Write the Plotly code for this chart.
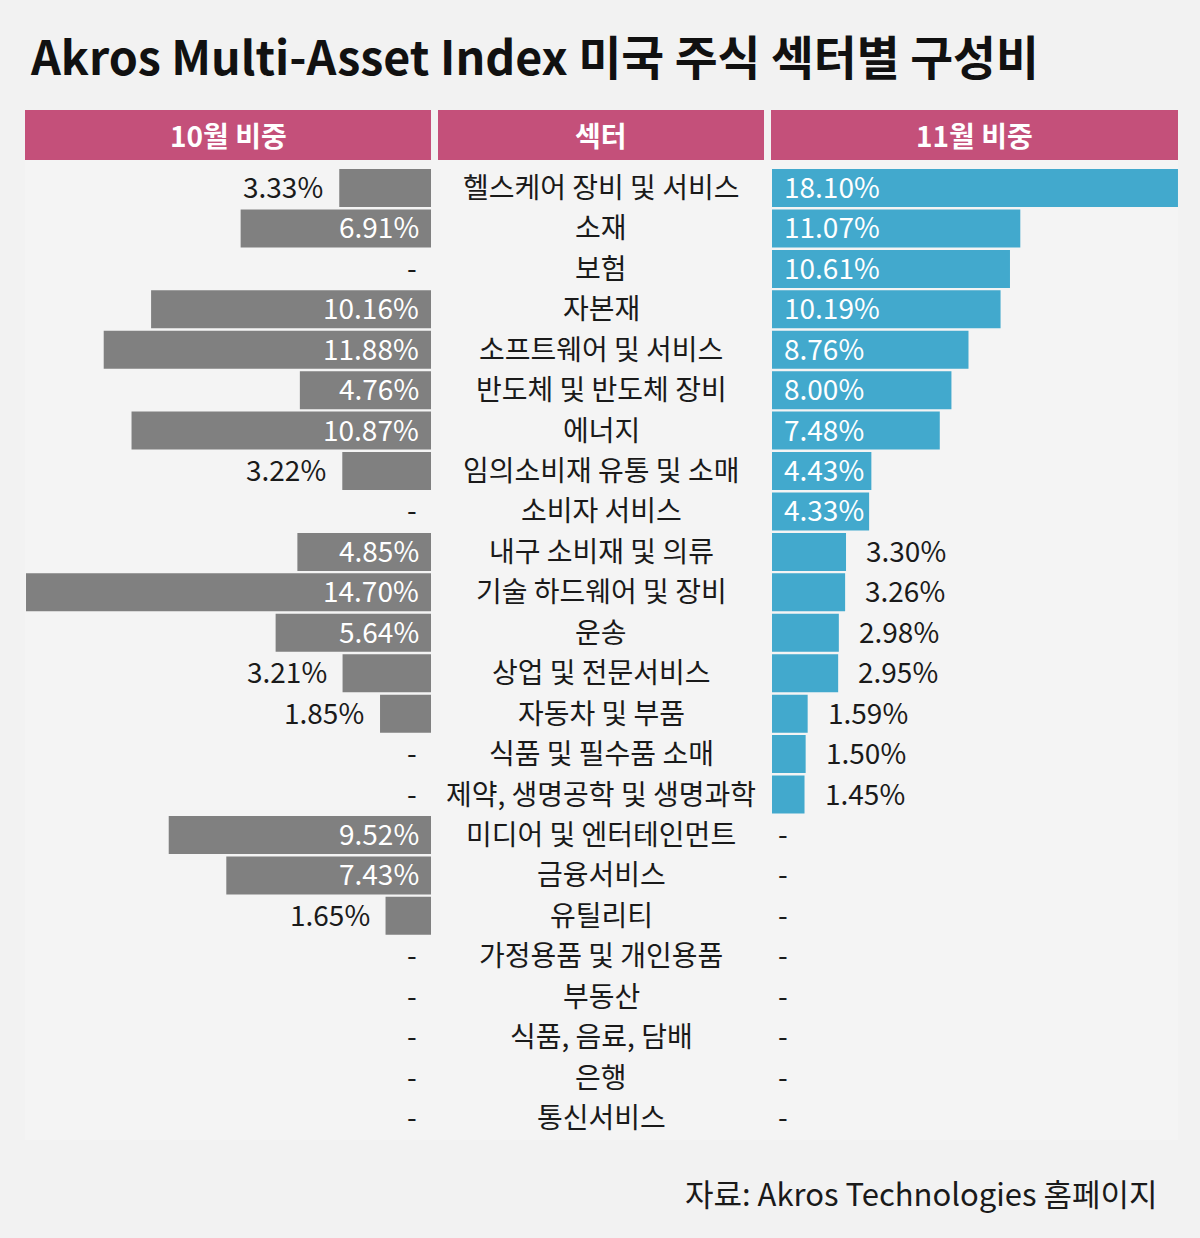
import plotly.graph_objects as go

sectors = ["헬스케어 장비 및 서비스", "소재", "보험", "자본재", "소프트웨어 및 서비스",
           "반도체 및 반도체 장비", "에너지", "임의소비재 유통 및 소매", "소비자 서비스",
           "내구 소비재 및 의류", "기술 하드웨어 및 장비", "운송", "상업 및 전문서비스",
           "자동차 및 부품", "식품 및 필수품 소매", "제약, 생명공학 및 생명과학",
           "미디어 및 엔터테인먼트", "금융서비스", "유틸리티", "가정용품 및 개인용품",
           "부동산", "식품, 음료, 담배", "은행", "통신서비스"]
oct_weights = [3.33, 6.91, None, 10.16, 11.88, 4.76, 10.87, 3.22, None, 4.85, 14.70, 5.64,
               3.21, 1.85, None, None, 9.52, 7.43, 1.65, None, None, None, None, None]
nov_weights = [18.10, 11.07, 10.61, 10.19, 8.76, 8.00, 7.48, 4.43, 4.33, 3.30, 3.26, 2.98,
               2.95, 1.59, 1.50, 1.45, None, None, None, None, None, None, None, None]
headers = ["10월 비중", "섹터", "11월 비중"]
title = "Akros Multi-Asset Index 미국 주식 섹터별 구성비"
source = "자료: Akros Technologies 홈페이지"

W, H = 1200, 1238
FONT = "Noto Sans CJK KR"
GREY = "#808080"
BLUE = "#42a9cd"
PINK = "#c4507a"
BG = "#f2f2f2"
TXT = "#1a1a1a"
INSIDE_MIN = 4.0
VSIZE = 28
CSIZE = 28
YS = 2

n = len(sectors)
rows = list(range(n))

def px(x):
    return x / W

def py(y):
    return 1 - y / H

fig = go.Figure()
fig.add_trace(go.Bar(
    y=rows, x=oct_weights, orientation="h", xaxis="x", yaxis="y",
    marker=dict(color=GREY, line=dict(width=0)), width=0.94, hoverinfo="skip",
))
fig.add_trace(go.Bar(
    y=rows, x=nov_weights, orientation="h", xaxis="x2", yaxis="y",
    marker=dict(color=BLUE, line=dict(width=0)), width=0.94, hoverinfo="skip",
))

annotations = []
vfont_in = dict(family=FONT, size=VSIZE, color="white")
vfont_out = dict(family=FONT, size=VSIZE, color=TXT)

for i, v in enumerate(oct_weights):
    if v is None:
        annotations.append(dict(x=0, y=i, xref="x", yref="y", text="-", showarrow=False,
                                xanchor="right", yanchor="middle", xshift=-12, yshift=YS, font=vfont_out))
    elif v >= INSIDE_MIN:
        annotations.append(dict(x=0, y=i, xref="x", yref="y", text=f"{v:.2f}%", showarrow=False,
                                xanchor="right", yanchor="middle", xshift=-10, yshift=YS, font=vfont_in))
    else:
        annotations.append(dict(x=v, y=i, xref="x", yref="y", text=f"{v:.2f}%", showarrow=False,
                                xanchor="right", yanchor="middle", xshift=-14, yshift=YS, font=vfont_out))

for i, v in enumerate(nov_weights):
    if v is None:
        annotations.append(dict(x=0, y=i, xref="x2", yref="y", text="-", showarrow=False,
                                xanchor="left", yanchor="middle", xshift=4, yshift=YS, font=vfont_out))
    elif v >= INSIDE_MIN:
        annotations.append(dict(x=0, y=i, xref="x2", yref="y", text=f"{v:.2f}%", showarrow=False,
                                xanchor="left", yanchor="middle", xshift=10, yshift=YS, font=vfont_in))
    else:
        annotations.append(dict(x=v, y=i, xref="x2", yref="y", text=f"{v:.2f}%", showarrow=False,
                                xanchor="left", yanchor="middle", xshift=18, yshift=YS, font=vfont_out))

for i, s in enumerate(sectors):
    annotations.append(dict(x=px(601), y=i, xref="paper", yref="y", text=s, showarrow=False,
                            xanchor="center", yanchor="middle", yshift=YS,
                            font=dict(family=FONT, size=CSIZE, color=TXT)))

header_boxes = [(25, 431), (438, 764), (771, 1178)]
shapes = [dict(type="rect", xref="paper", yref="paper", x0=px(25), x1=px(1178),
               y0=py(1140), y1=py(160), fillcolor="#f4f4f4", line=dict(width=0), layer="below")]
for (x0, x1), h in zip(header_boxes, headers):
    shapes.append(dict(type="rect", xref="paper", yref="paper", x0=px(x0), x1=px(x1),
                       y0=py(160), y1=py(110), fillcolor=PINK, line=dict(width=0), layer="below"))
    annotations.append(dict(x=px((x0 + x1) / 2), y=py(135), xref="paper", yref="paper", text=f"<b>{h}</b>",
                            showarrow=False, xanchor="center", yanchor="middle",
                            font=dict(family=FONT, size=28, color="white")))

annotations.append(dict(x=px(28), y=py(55), xref="paper", yref="paper", text=f"<b>{title}</b>",
                        showarrow=False, xanchor="left", yanchor="middle",
                        font=dict(family=FONT, size=46.6, color="#111111")))
annotations.append(dict(x=px(1160), y=py(1192), xref="paper", yref="paper", text=source,
                        showarrow=False, xanchor="right", yanchor="middle",
                        font=dict(family=FONT, size=31, color=TXT)))

top_px, bot_px = 167.8, 1138.2
fig.update_layout(
    width=W, height=H, autosize=False,
    margin=dict(l=0, r=0, t=0, b=0),
    paper_bgcolor=BG, plot_bgcolor="rgba(0,0,0,0)",
    showlegend=False, barmode="overlay",
    xaxis=dict(domain=[px(25), px(431)], range=[406 / 27.55, 0], visible=False, fixedrange=True, anchor="y"),
    xaxis2=dict(domain=[px(772), px(1178)], range=[0, 406 / 22.43], visible=False, fixedrange=True, anchor="y"),
    yaxis=dict(domain=[py(bot_px), py(top_px)], range=[n - 0.5, -0.5], visible=False, fixedrange=True, anchor="x"),
    shapes=shapes,
    annotations=annotations,
)

fig.write_html("out.html", config={"displayModeBar": False},
               post_script="document.body.style.margin='0';document.body.style.overflow='hidden';")
